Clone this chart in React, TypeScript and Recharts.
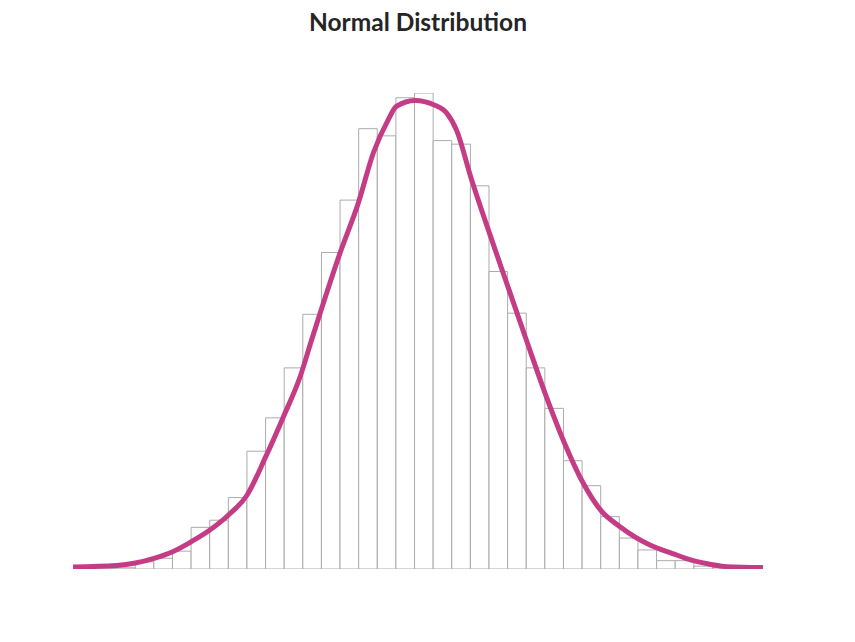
import { ComposedChart, Bar, Line, XAxis, YAxis } from 'recharts';

// histogram bins: centre of each 0.2-wide bin and its count
const binCenters = [
  -3.4, -3.2, -3.0, -2.8, -2.6, -2.4, -2.2, -2.0, -1.8, -1.6, -1.4, -1.2,
  -1.0, -0.8, -0.6, -0.4, -0.2, 0.0, 0.2, 0.4, 0.6, 0.8, 1.0, 1.2, 1.4,
  1.6, 1.8, 2.0, 2.2, 2.4, 2.6, 2.8, 3.0, 3.2, 3.4,
];
const binCounts = [
  0.4, 0.5, 3, 4.5, 7.5, 17.5, 20.5, 30, 49.5, 63.5, 84.5, 107, 133, 155,
  185, 182, 198, 200, 180, 178.5, 161, 125, 107.5, 84.5, 67.5, 45.5, 35,
  22, 13, 8, 3.5, 3.5, 1.2, 0.7, 0.2,
];

// fitted density curve at these x positions
const curveX = [
  -3.77, -3.3, -3.1, -2.9, -2.7, -2.5, -2.3, -2.1, -1.9, -1.7, -1.51, -1.33,
  -1.207, -0.903, -0.706, -0.545, -0.384, -0.298, -0.097, 0.104, 0.243,
  0.351, 0.504, 0.705, 0.905, 1.106, 1.299, 1.503, 1.71, 1.903, 2.104,
  2.426, 2.663, 2.863, 3.057, 3.253, 3.64,
];
const curveY = [
  0.84, 1.47, 2.52, 4.5, 7.27, 11.48, 16.4, 22.7, 31.1, 47.2, 64.0, 80.9,
  96.3, 132.7, 153.8, 174.8, 188.8, 194.4, 196.9, 195.1, 191.6, 184.2, 164.4,
  140.8, 118.1, 95.4, 73.9, 53.4, 36.0, 24.4, 17.8, 10.1, 6.6, 3.8, 2.1,
  0.97, 0.63,
];

const bins = binCenters.map((x, i) => ({ x, count: binCounts[i] }));
const curve = curveX.map((x, i) => ({ x, density: curveY[i] }));

export default function App() {
  return (
    <div style={{ position: 'absolute', left: 0, top: 0, width: 855, height: 642, background: '#fff' }}>
      <div
        style={{
          position: 'absolute',
          left: 73,
          width: 690,
          top: 10,
          textAlign: 'center',
          fontFamily: 'Lato, sans-serif',
          fontWeight: 700,
          fontSize: 24.5,
          lineHeight: '24px',
          color: '#252525',
        }}
      >
        Normal Distribution
      </div>
      <ComposedChart width={855} height={642} data={bins} margin={{ top: 93, right: 92, left: 73, bottom: 73 }}>
        <XAxis xAxisId="bins" dataKey="x" type="category" padding={{ left: 25, right: 13.3 }} hide />
        <XAxis xAxisId="curve" dataKey="x" type="number" domain={[-3.77, 3.64]} hide allowDataOverflow />
        <YAxis type="number" domain={[0, 200]} hide allowDataOverflow />
        <Bar
          xAxisId="bins"
          dataKey="count"
          fill="#ffffff"
          stroke="#ababab"
          strokeWidth={1}
          barSize={18.6}
          isAnimationActive={false}
        />
        <Line
          xAxisId="curve"
          data={curve}
          dataKey="density"
          type="monotone"
          stroke="#c43c86"
          strokeWidth={5}
          dot={false}
          activeDot={false}
          isAnimationActive={false}
        />
      </ComposedChart>
    </div>
  );
}
